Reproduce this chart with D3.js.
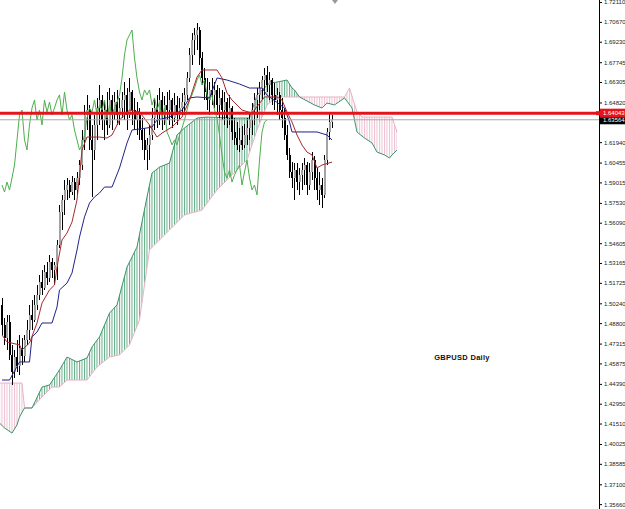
<!DOCTYPE html>
<html>
<head>
<meta charset="utf-8">
<script src="https://cdn.jsdelivr.net/npm/d3@7"></script>
<style>
html, body { margin: 0; padding: 0; background: #fff; }
svg { display: block; }
</style>
</head>
<body>
<script>
// GBPUSD daily bars, oldest first (bar index = position in array)
const opens = [1.5012,1.4867,1.4772,1.4888,1.4649,1.4525,1.4634,1.4568,1.4700,1.4641,
  1.4758,1.4830,1.4939,1.4903,1.5012,1.5085,1.5178,1.5135,1.5251,1.5208,
  1.5323,1.5266,1.5302,1.5448,1.5686,1.5774,1.5847,1.5883,1.5832,1.5904,
  1.5847,1.5934,1.6028,1.6210,1.6391,1.6427,1.6210,1.6137,1.6319,1.6442,
  1.6500,1.6355,1.6427,1.6319,1.6500,1.6412,1.6485,1.6391,1.6442,1.6500,
  1.6537,1.6391,1.6558,1.6427,1.6355,1.6391,1.6282,1.6210,1.6137,1.6174,
  1.6246,1.6369,1.6442,1.6412,1.6500,1.6391,1.6464,1.6427,1.6500,1.6369,
  1.6464,1.6391,1.6442,1.6485,1.6537,1.6660,1.6827,1.6936,1.6972,1.7008,
  1.6805,1.6660,1.6558,1.6500,1.6573,1.6537,1.6573,1.6464,1.6515,1.6427,
  1.6485,1.6369,1.6442,1.6267,1.6224,1.6174,1.6210,1.6174,1.6246,1.6297,
  1.6355,1.6427,1.6500,1.6537,1.6587,1.6645,1.6682,1.6609,1.6645,1.6537,
  1.6500,1.6537,1.6427,1.6369,1.6246,1.6101,1.5977,1.5934,1.5992,1.5904,
  1.5956,1.5992,1.6028,1.5883,1.5977,1.6064,1.5934,1.5847,1.5883,1.5811,
  1.6064,1.6267,1.6340];
const highs = [1.5063,1.4917,1.4939,1.4939,1.4722,1.4685,1.4758,1.4794,1.4772,1.4794,
  1.4903,1.5012,1.5048,1.5085,1.5157,1.5230,1.5266,1.5302,1.5323,1.5375,
  1.5353,1.5323,1.5484,1.5738,1.5811,1.5919,1.5934,1.5919,1.5948,1.5934,
  1.5977,1.6064,1.6282,1.6464,1.6537,1.6464,1.6319,1.6391,1.6515,1.6609,
  1.6537,1.6500,1.6558,1.6587,1.6537,1.6558,1.6573,1.6515,1.6558,1.6630,
  1.6587,1.6660,1.6573,1.6515,1.6485,1.6442,1.6369,1.6297,1.6224,1.6319,
  1.6442,1.6515,1.6537,1.6587,1.6558,1.6529,1.6558,1.6573,1.6515,1.6551,
  1.6529,1.6515,1.6551,1.6587,1.6703,1.6878,1.6986,1.7023,1.7059,1.7030,
  1.6848,1.6732,1.6660,1.6630,1.6660,1.6630,1.6609,1.6587,1.6573,1.6558,
  1.6515,1.6537,1.6456,1.6369,1.6340,1.6297,1.6311,1.6326,1.6369,1.6412,
  1.6478,1.6551,1.6587,1.6630,1.6674,1.6732,1.6746,1.6703,1.6660,1.6623,
  1.6587,1.6558,1.6515,1.6442,1.6319,1.6152,1.6049,1.6042,1.6042,1.6006,
  1.6042,1.6079,1.6049,1.6042,1.6122,1.6093,1.6006,1.5977,1.5934,1.6101,
  1.6297,1.6405,1.6391];
const lows = [1.4794,1.4722,1.4685,1.4612,1.4431,1.4482,1.4525,1.4504,1.4576,1.4597,
  1.4722,1.4758,1.4830,1.4888,1.4975,1.5048,1.5085,1.5121,1.5157,1.5178,
  1.5208,1.5157,1.5193,1.5426,1.5556,1.5665,1.5774,1.5789,1.5811,1.5774,
  1.5811,1.5883,1.5992,1.6137,1.6282,1.6137,1.5796,1.6064,1.6210,1.6319,
  1.6282,1.6210,1.6246,1.6297,1.6282,1.6355,1.6319,1.6319,1.6369,1.6355,
  1.6282,1.6369,1.6319,1.6282,1.6246,1.6210,1.6137,1.6064,1.5992,1.6064,
  1.6210,1.6282,1.6297,1.6319,1.6282,1.6319,1.6355,1.6319,1.6297,1.6340,
  1.6319,1.6355,1.6391,1.6391,1.6500,1.6630,1.6754,1.6827,1.6863,1.6754,
  1.6609,1.6500,1.6427,1.6391,1.6464,1.6442,1.6391,1.6369,1.6355,1.6319,
  1.6297,1.6319,1.6210,1.6174,1.6137,1.6122,1.6137,1.6152,1.6174,1.6210,
  1.6246,1.6319,1.6369,1.6427,1.6500,1.6537,1.6558,1.6500,1.6464,1.6427,
  1.6391,1.6355,1.6297,1.6210,1.6064,1.5934,1.5861,1.5774,1.5847,1.5811,
  1.5847,1.5883,1.5811,1.5847,1.5919,1.5847,1.5774,1.5738,1.5716,1.5789,
  1.6028,1.6210,1.6297];
const closes = [1.4867,1.4772,1.4888,1.4649,1.4525,1.4634,1.4568,1.4700,1.4641,1.4758,
  1.4830,1.4939,1.4903,1.5012,1.5085,1.5178,1.5135,1.5251,1.5208,1.5323,
  1.5266,1.5302,1.5448,1.5686,1.5774,1.5847,1.5883,1.5832,1.5904,1.5847,
  1.5934,1.6028,1.6210,1.6391,1.6427,1.6210,1.6137,1.6319,1.6442,1.6500,
  1.6355,1.6427,1.6319,1.6500,1.6412,1.6485,1.6391,1.6442,1.6500,1.6537,
  1.6391,1.6558,1.6427,1.6355,1.6391,1.6282,1.6210,1.6137,1.6174,1.6246,
  1.6369,1.6442,1.6412,1.6500,1.6391,1.6464,1.6427,1.6500,1.6369,1.6464,
  1.6391,1.6442,1.6485,1.6537,1.6660,1.6827,1.6936,1.6972,1.7008,1.6805,
  1.6660,1.6558,1.6500,1.6573,1.6537,1.6573,1.6464,1.6515,1.6427,1.6485,
  1.6369,1.6442,1.6267,1.6224,1.6174,1.6210,1.6174,1.6246,1.6297,1.6355,
  1.6427,1.6500,1.6537,1.6587,1.6645,1.6682,1.6609,1.6645,1.6537,1.6500,
  1.6537,1.6427,1.6369,1.6246,1.6101,1.5977,1.5934,1.5992,1.5904,1.5956,
  1.5992,1.6028,1.5883,1.5977,1.6064,1.5934,1.5847,1.5883,1.5811,1.6064,
  1.6267,1.6340,1.6356];

// Ichimoku lines at the bars where they turn
const tenkanBars = [0,2,7,8,11,14,16,19,21,22,24,26,28,30,31,32,34,39,42,44,47,51,55,59,62,64,68,72,75,78,
  80,86,88,90,92,96,100,105,110,112,114,116,118,120,122,124,126,128,132];
const tenkan = [1.4794,1.4743,1.4722,1.4685,1.4736,1.4881,1.5026,1.5121,1.5157,1.5287,
  1.5484,1.5534,1.5614,1.5774,1.5956,1.6137,1.6231,1.6231,1.6224,1.6246,
  1.6355,1.6427,1.6413,1.6319,1.6231,1.6260,1.6304,1.6376,1.6500,1.6667,
  1.6718,1.6718,1.6660,1.6551,1.6500,1.6427,1.6405,1.6522,1.6522,1.6500,
  1.6413,1.6340,1.6246,1.6173,1.6122,1.6101,1.6006,1.6028,1.6049];
const kijunBars = [0,3,7,11,12,14,16,20,22,23,26,28,30,31,33,35,37,39,41,44,47,50,52,58,60,62,67,72,75,78,
  83,86,90,95,99,104,106,113,115,116,126,130,132];
const kijun = [1.4467,1.4467,1.4598,1.4598,1.4780,1.4815,1.4881,1.4881,1.4997,1.5121,
  1.5171,1.5244,1.5411,1.5505,1.5651,1.5752,1.5796,1.5825,1.5868,1.5868,
  1.6006,1.6188,1.6282,1.6297,1.6304,1.6355,1.6376,1.6427,1.6515,1.6522,
  1.6515,1.6660,1.6645,1.6616,1.6587,1.6587,1.6536,1.6442,1.6340,1.6268,
  1.6268,1.6246,1.6210];
const spanABars = [-1,1,4,6,7,9,12,16,19,23,26,30,34,36,39,43,46,50,54,58,60,63,67,70,73,78,82,92,99,102,
  107,110,114,116,117,119,125,128,130,133,137,140,142,145,148,150,153,155,156,158];
const spanA = [1.4155,1.4119,1.4082,1.4141,1.4198,1.4264,1.4264,1.4416,1.4431,1.4540,
  1.4634,1.4598,1.4627,1.4707,1.4780,1.4953,1.5012,1.5287,1.5433,1.5796,
  1.5970,1.6013,1.6042,1.6246,1.6297,1.6369,1.6376,1.6369,1.6369,1.6537,
  1.6623,1.6630,1.6645,1.6587,1.6573,1.6522,1.6464,1.6442,1.6478,1.6464,
  1.6515,1.6442,1.6267,1.6224,1.6188,1.6122,1.6101,1.6079,1.6101,1.6137];
const spanBBars = [-1,8,9,12,16,20,23,26,34,38,43,47,51,55,59,63,67,73,80,86,92,98,102,106,110,119,137,139,142,144,
  156,158];
const spanB = [1.4445,1.4445,1.4264,1.4264,1.4344,1.4416,1.4416,1.4467,1.4467,1.4561,
  1.4634,1.4649,1.4722,1.4903,1.5411,1.5484,1.5556,1.5665,1.5701,1.5847,
  1.5956,1.6064,1.6282,1.6464,1.6522,1.6522,1.6522,1.6587,1.6413,1.6376,
  1.6376,1.6267];
const chikouShift = 26;

const priceTicks = [1.72110,1.70670,1.69230,1.67745,1.66305,1.64820,1.61940,1.60455,1.59015,1.57530,
  1.56090,1.54605,1.53165,1.51725,1.50240,1.48800,1.47315,1.45875,1.44390,1.42950,
  1.41510,1.40025,1.38585,1.37100,1.35660];
const levelLine = 1.64043;   // red horizontal line
const bidPrice = 1.63564;    // last price
const title = 'GBPUSD Daily';

const W = 625, H = 509, axisX = 599;

const x = d3.scaleLinear().domain([0, 158]).range([2, 397]);
const y = d3.scaleLinear().domain([1.7226, 1.3566]).range([0, 504.13]);

const svg = d3.select('body').append('svg')
  .attr('width', W).attr('height', H)
  .style('font-family', '"Liberation Sans", Arial, sans-serif');

svg.append('rect').attr('width', W).attr('height', H).attr('fill', '#fff');

const defs = svg.append('defs');
defs.append('clipPath').attr('id', 'plot')
  .append('rect').attr('x', 0).attr('y', 0).attr('width', axisX).attr('height', H);

function hatch(id, color) {
  const p = defs.append('pattern').attr('id', id)
    .attr('patternUnits', 'userSpaceOnUse')
    .attr('x', 1.5).attr('width', 2.5).attr('height', 10);
  p.append('rect').attr('width', 1).attr('height', 10).attr('fill', color);
}
hatch('hatchUp', '#62ab86');
hatch('hatchDn', '#ecbfd0');

const g = svg.append('g').attr('clip-path', 'url(#plot)');
const line = d3.line();

// cloud between span A and span B
const ptsA = spanABars.map((b, k) => [x(b), y(spanA[k])]);
const ptsB = spanBBars.map((b, k) => [x(b), y(spanB[k])]);
const between = line(ptsA) + 'L' + line(ptsB.slice().reverse()).slice(1) + 'Z';
const xs = ptsB[0][0], xe = ptsB[ptsB.length - 1][0];
defs.append('clipPath').attr('id', 'aboveB')
  .append('path').attr('d', line([[xs, -5], ...ptsB, [xe, -5]]) + 'Z');
defs.append('clipPath').attr('id', 'belowB')
  .append('path').attr('d', line([[xs, H + 5], ...ptsB, [xe, H + 5]]) + 'Z');

g.append('path').attr('d', between).attr('fill', 'url(#hatchUp)').attr('clip-path', 'url(#aboveB)');
g.append('path').attr('d', between).attr('fill', 'url(#hatchDn)').attr('clip-path', 'url(#belowB)');
g.append('path').attr('d', line(ptsB)).attr('fill', 'none').attr('stroke', '#e6b3c7').attr('stroke-width', 1);
g.append('path').attr('d', line(ptsA)).attr('fill', 'none').attr('stroke', '#3a9466').attr('stroke-width', 1);

// candles
const bars = d3.range(closes.length);
const cg = g.append('g').attr('shape-rendering', 'crispEdges');
cg.selectAll('line.wick').data(bars).join('line')
  .attr('class', 'wick')
  .attr('x1', i => x(i)).attr('x2', i => x(i))
  .attr('y1', i => y(highs[i])).attr('y2', i => y(lows[i]))
  .attr('stroke', '#000').attr('stroke-width', 1);
cg.selectAll('rect.body').data(bars).join('rect')
  .attr('class', 'body')
  .attr('x', i => x(i) - 1).attr('width', 2)
  .attr('y', i => y(Math.max(opens[i], closes[i])))
  .attr('height', i => Math.max(1, Math.abs(y(opens[i]) - y(closes[i]))))
  .attr('fill', i => closes[i] >= opens[i] ? '#a3a3a3' : '#000');

// chikou: close plotted 26 bars back
const chikou = bars.filter(i => i >= chikouShift).map(i => [x(i - chikouShift), y(closes[i])]);
g.append('path').attr('d', line(chikou)).attr('fill', 'none').attr('stroke', '#4caf4c').attr('stroke-width', 1);

g.append('path').attr('d', line(kijunBars.map((b, k) => [x(b), y(kijun[k])])))
  .attr('fill', 'none').attr('stroke', '#22228a').attr('stroke-width', 1);
g.append('path').attr('d', line(tenkanBars.map((b, k) => [x(b), y(tenkan[k])])))
  .attr('fill', 'none').attr('stroke', '#a8282c').attr('stroke-width', 1);

// price lines
svg.append('line').attr('x1', 0).attr('x2', axisX)
  .attr('y1', y(bidPrice)).attr('y2', y(bidPrice))
  .attr('stroke', '#a8a8a8').attr('stroke-width', 1);
svg.append('line').attr('x1', 0).attr('x2', axisX - 2)
  .attr('y1', y(levelLine)).attr('y2', y(levelLine))
  .attr('stroke', '#e3141b').attr('stroke-width', 3);

// price axis
const axis = svg.append('g').attr('transform', `translate(${axisX},0)`)
  .call(d3.axisRight(y).tickValues(priceTicks).tickSize(3).tickSizeOuter(0)
    .tickPadding(2).tickFormat(d3.format('.5f')));
axis.select('.domain').remove();
axis.selectAll('line').attr('stroke', '#000');
axis.selectAll('text').attr('font-size', 6).attr('fill', '#222')
  .attr('font-family', '"Liberation Sans", Arial, sans-serif');
svg.append('line').attr('x1', axisX + 0.5).attr('x2', axisX + 0.5).attr('y1', 0).attr('y2', H)
  .attr('stroke', '#000').attr('stroke-width', 1);

function priceTag(v, bg) {
  const t = svg.append('g').attr('transform', `translate(${axisX + 1},${y(v)})`);
  t.append('rect').attr('x', 0).attr('y', -4.5).attr('width', 26).attr('height', 9).attr('fill', bg);
  t.append('text').attr('x', 3).attr('dy', '0.35em').attr('font-size', 6).attr('fill', '#fff')
    .text(d3.format('.5f')(v));
}
priceTag(bidPrice, '#000');
priceTag(levelLine, '#e3141b');
svg.append('rect').attr('x', axisX - 3).attr('y', y(levelLine) - 2).attr('width', 4).attr('height', 4).attr('fill', '#e3141b');

// chart shift marker
svg.append('path').attr('d', 'M332,0L338,0L335,4Z').attr('fill', '#9a9a9a');

svg.append('text').attr('x', 462).attr('y', 360).attr('text-anchor', 'middle')
  .attr('font-size', 7.5).attr('font-weight', 'bold').attr('fill', '#111')
  .style('letter-spacing', '0.3px').text(title);
</script>
</body>
</html>
